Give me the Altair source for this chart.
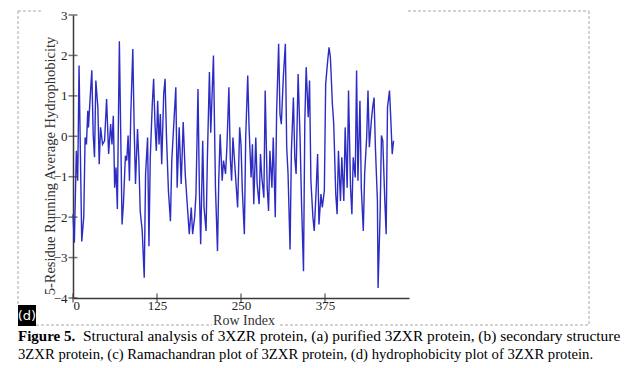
import altair as alt
import pandas as pd

# ---- data ----
row_index = [0,2,5,7,9,13,16,18,20,22,23,25,28,30,32,34,37,39,41,44,47,50,53,56,58,60,62,64,66,69,
             73,75,78,80,82,84,86,89,91,93,96,98,100,103,106,108,111,113,115,118,120,122,124,126,128,130,
             132,135,137,139,142,145,147,150,153,155,158,161,164,167,170,173,176,178,181,183,186,188,190,
             193,195,198,200,203,205,209,212,215,217,219,222,224,227,229,232,234,236,238,240,243,245,248,
             250,252,255,257,260,262,265,267,269,272,274,277,279,281,284,286,289,291,293,296,298,301,303,
             306,308,310,313,316,318,320,323,325,328,330,332,335,338,340,343,345,347,350,352,354,357,359,
             362,364,366,369,371,374,376,379,381,383,386,388,391,393,395,398,400,403,405,408,410,413,415,
             417,420,422,424,427,429,432,434,437,439,441,444,446,448,450,453,454,457,459,461,464,466,468,
             471,473,475,477]
hydrophobicity = [-1.93,-2.63,-0.36,-1.1,1.75,-2.6,-2.0,-0.03,-0.2,0.63,0.22,0.8,1.63,0.05,-0.52,1.38,0.72,-0.69,0.22,-0.2,
                  -0.11,0.92,-0.44,0.3,-0.2,0.51,-1.27,-0.77,-1.8,2.35,-2.18,-1.68,-0.48,-0.6,0.02,-1.1,0.55,2.16,0.22,-1.18,
                  0.18,-0.6,-1.85,-2.34,-3.5,-0.93,-0.03,-2.72,-0.52,0.8,1.42,0.3,-0.36,0.88,-0.2,0.55,-0.69,1.05,1.42,0.05,
                  -1.35,-2.1,-0.6,0.3,1.21,-1.27,0.22,-1.18,0.35,-0.93,-1.68,-2.42,-1.76,-2.42,-2.0,-1.43,1.17,-1.27,-2.67,
                  -0.11,-1.76,-2.34,-0.52,1.59,0.09,2.0,-1.27,-2.84,-1.02,0.05,-1.1,-0.6,-0.93,-0.27,1.21,-0.52,-1.1,-0.03,
                  -0.52,-1.27,-1.76,0.22,-0.2,-1.35,-2.42,-0.03,1.5,0.22,-1.02,-0.2,-1.68,-0.03,-1.18,-1.68,-0.44,-1.02,
                  -1.52,1.13,-1.27,-1.85,-0.36,-1.27,-0.03,-2.0,0.6,2.29,0.55,0.3,1.46,2.29,-0.27,-0.93,-2.8,-0.36,0.96,
                  -0.52,-0.93,1.54,-0.11,-1.6,-3.34,0.39,1.71,0.47,1.38,-1.1,-2.0,-2.34,-1.27,-0.44,-2.18,-1.43,-1.76,
                  -1.35,1.29,1.87,2.2,1.96,0.8,0.3,-1.43,-1.93,-0.36,-1.6,-0.52,-1.6,0.22,-1.27,1.13,-1.27,-1.93,-0.52,
                  -1.02,1.63,-1.1,0.88,-1.27,-2.34,-0.93,-0.03,1.13,-0.27,0.39,0.72,0.96,-0.27,-1.6,-3.75,-1.93,0.02,
                  -0.11,-1.6,-2.42,0.72,1.13,0.39,-0.44,-0.11]
x_ticks = [0, 125, 250, 375]
y_ticks = [-4, -3, -2, -1, 0, 1, 2, 3]

x_title = "Row Index"
y_title = "5-Residue Running Average Hydrophobicity"
caption_bold = "Figure 5."
caption_line1 = "Structural analysis of 3XZR protein, (a) purified 3ZXR protein, (b) secondary structure"
caption_line2 = "3ZXR protein, (c) Ramachandran plot of 3ZXR protein, (d) hydrophobicity plot of 3ZXR protein."
panel_label = "(d)"

df = pd.DataFrame({"idx": row_index, "val": hydrophobicity})

# ---- layout (page pixels) ----
L, T = 73, 15          # plot origin on the page
W, H = 336, 283        # plot area
def px(x):  # page x -> plot-relative x
    return x - L
def py(y):
    return y - T

FONT = "Liberation Serif"
AX = "#3a3a3a"

xs = alt.Scale(domain=[0, 500], nice=False, zero=False)
ys = alt.Scale(domain=[-4, 3], nice=False, zero=False)

line = alt.Chart(df).mark_line(color="#2c2cc4", strokeWidth=1.4).encode(
    x=alt.X("idx:Q", scale=xs, axis=alt.Axis(
        values=x_ticks, title=None, grid=False, ticks=False, labelPadding=1,
        labelFont=FONT, labelFontSize=13, labelColor="#222", domainColor=AX, domainWidth=1.5)),
    y=alt.Y("val:Q", scale=ys, axis=alt.Axis(
        values=y_ticks, title=None, grid=False, ticks=False,
        labelPadding=6, labelFont=FONT, labelFontSize=13, labelColor="#222",
        domainColor=AX, domainWidth=1.5)),
)

# crossing tick marks
yt = alt.Chart(pd.DataFrame({"v": y_ticks})).mark_tick(
    orient="horizontal", size=9, thickness=1.5, color=AX).encode(
    y=alt.Y("v:Q", scale=ys), x=alt.value(0))
xt = alt.Chart(pd.DataFrame({"v": x_ticks})).mark_tick(
    orient="vertical", size=9, thickness=1.5, color=AX).encode(
    x=alt.X("v:Q", scale=xs), y=alt.value(H))

# axis titles
ytitle = alt.Chart(pd.DataFrame({"t": [y_title]})).mark_text(
    font=FONT, fontSize=14.5, color="#333", angle=270, align="center", baseline="bottom").encode(
    text="t:N", x=alt.value(px(58)), y=alt.value(py(166)))
xtitle = alt.Chart(pd.DataFrame({"t": [x_title]})).mark_text(
    font=FONT, fontSize=14, color="#333", align="center", baseline="middle").encode(
    text="t:N", x=alt.value(px(244)), y=alt.value(py(320.5)))

# dashed figure frame (decoration)
seg = pd.DataFrame({
    "x1": [18, 408, 18, 589, 36, 280],
    "x2": [42, 589, 18, 589, 212, 589],
    "y1": [11, 11, 11, 11, 325, 325],
    "y2": [11, 11, 305, 325, 325, 325],
})
seg = seg.assign(x1=seg.x1 - L, x2=seg.x2 - L, y1=seg.y1 - T, y2=seg.y2 - T)
frame = alt.Chart(seg).mark_rule(color="#a8a8a8", strokeWidth=1, strokeDash=[3, 2]).encode(
    x=alt.X("x1:Q", scale=None), x2="x2:Q",
    y=alt.Y("y1:Q", scale=None), y2="y2:Q")

box = alt.Chart(pd.DataFrame({"a": [0]})).mark_rect(color="black").encode(
    x=alt.value(px(18)), x2=alt.value(px(36)), y=alt.value(py(305)), y2=alt.value(py(326)))
boxtxt = alt.Chart(pd.DataFrame({"t": [panel_label]})).mark_text(
    color="white", font="DejaVu Sans", fontSize=13, align="center", baseline="middle").encode(
    text="t:N", x=alt.value(px(27)), y=alt.value(py(316)))

cap_b = alt.Chart(pd.DataFrame({"t": [caption_bold]})).mark_text(
    font=FONT, fontSize=15, fontWeight="bold", color="black", align="left", baseline="alphabetic").encode(
    text="t:N", x=alt.value(px(18)), y=alt.value(py(341)))
cap_1 = alt.Chart(pd.DataFrame({"t": [caption_line1]})).mark_text(
    font=FONT, fontSize=15.4, color="black", align="left", baseline="alphabetic").encode(
    text="t:N", x=alt.value(px(83)), y=alt.value(py(341)))
cap_2 = alt.Chart(pd.DataFrame({"t": [caption_line2]})).mark_text(
    font=FONT, fontSize=14.7, color="black", align="left", baseline="alphabetic").encode(
    text="t:N", x=alt.value(px(18)), y=alt.value(py(358.5)))

chart = alt.layer(frame, line, yt, xt, ytitle, xtitle, box, boxtxt, cap_b, cap_1, cap_2).properties(
    width=W, height=H,
    padding={"left": L, "top": T, "right": 632 - L - W, "bottom": 368 - T - H},
    autosize=alt.AutoSizeParams(type="none"),
    background="white",
).configure_view(stroke=None)

chart.save("out.html", embed_options={"renderer": "svg", "actions": False})
